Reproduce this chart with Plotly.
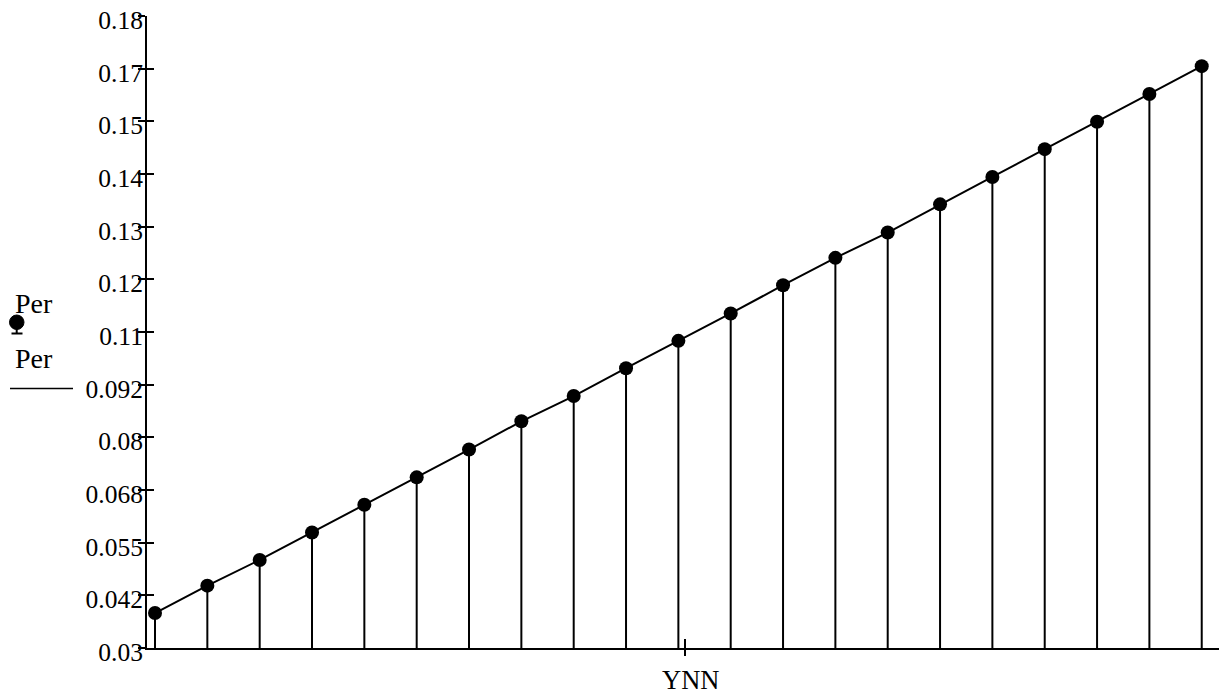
import plotly.graph_objects as go

# ---- data ----
ynn = list(range(1, 22))
per = [0.0383, 0.0448, 0.0509, 0.0574, 0.0640, 0.0705, 0.0771, 0.0838, 0.0898,
       0.0964, 0.1029, 0.1094, 0.1161, 0.1226, 0.1286, 0.1353, 0.1418, 0.1484,
       0.1549, 0.1615, 0.1681]
y_tickvals = [0.03, 0.0425, 0.055, 0.0675, 0.08, 0.0925, 0.105, 0.1175, 0.13,
              0.1425, 0.155, 0.1675, 0.18]
y_ticktext = ["0.03", "0.042", "0.055", "0.068", "0.08", "0.092", "0.11", "0.12",
              "0.13", "0.14", "0.15", "0.17", "0.18"]
y_min, y_max = 0.03, 0.18
x_min, x_max = 0.847, 21.33
x_mid_tick = [11.127]

FONT = "Liberation Serif"
W, H = 1219, 696
ML, MR, MT, MB = 147, 0, 16, 48
PW, PH = W - ML - MR, H - MT - MB

def px(x):
    return (x - ML) / PW

def py(y):
    return (H - MB - y) / PH

# stems built from the data
stem_x, stem_y = [], []
for xv, yv in zip(ynn, per):
    stem_x += [xv, xv, None]
    stem_y += [y_min, yv, None]

fig = go.Figure()
fig.add_trace(go.Scatter(x=stem_x, y=stem_y, mode="lines",
                         line=dict(color="black", width=2), hoverinfo="skip",
                         showlegend=False))
fig.add_trace(go.Scatter(x=ynn, y=per, mode="lines+markers",
                         line=dict(color="black", width=2),
                         marker=dict(color="black", size=14),
                         showlegend=False, name="Per"))
# invisible trace to activate overlay axes (inner tick halves)
fig.add_trace(go.Scatter(x=[ynn[0]], y=[per[0]], xaxis="x2", yaxis="y2",
                         mode="markers", marker=dict(opacity=0),
                         showlegend=False, hoverinfo="skip"))

tick_font = dict(family=FONT, size=25.5, color="black")
title_font = dict(family=FONT, size=28, color="black")
xtitle_font = dict(family=FONT, size=26.5, color="black")
eps = 1e-7
fig.update_layout(
    width=W, height=H,
    margin=dict(l=ML, r=MR, t=MT, b=MB),
    paper_bgcolor="white", plot_bgcolor="white",
    font=tick_font,
    showlegend=False,
    xaxis=dict(range=[x_min, x_max], showgrid=False, zeroline=False,
               showline=True, linecolor="black", linewidth=2,
               tickvals=x_mid_tick, ticks="outside", ticklen=6, tickwidth=2,
               tickcolor="black", showticklabels=False),
    xaxis2=dict(range=[x_min, x_max], overlaying="x", anchor="y",
                showgrid=False, zeroline=False, showline=False,
                tickvals=x_mid_tick, ticks="inside", ticklen=9, tickwidth=2,
                tickcolor="black", showticklabels=False),
    yaxis=dict(range=[y_min, y_max + eps], showgrid=False, zeroline=False,
               showline=True, linecolor="black", linewidth=2,
               tickvals=y_tickvals, ticktext=y_ticktext,
               ticks="outside", ticklen=7, tickwidth=2, tickcolor="black",
               tickfont=tick_font, ticklabelstandoff=-10, ticklabelshift=4,
               ticklabeloverflow="allow"),
    yaxis2=dict(range=[y_min, y_max + eps], overlaying="y", anchor="x",
                showgrid=False, zeroline=False, showline=False,
                tickvals=y_tickvals, ticks="inside", ticklen=7, tickwidth=2,
                tickcolor="black", showticklabels=False),
)

# x-axis title
fig.add_annotation(x=px(690.5), y=py(695.5), xref="paper", yref="paper",
                   text="YNN", showarrow=False, font=xtitle_font, borderpad=0,
                   xanchor="center", yanchor="bottom")
# Mathcad-style y-axis legend labels on the left
fig.add_annotation(x=px(34), y=py(303), xref="paper", yref="paper",
                   text="Per", showarrow=False, font=title_font,
                   xanchor="center", yanchor="middle")
fig.add_annotation(x=px(34), y=py(358), xref="paper", yref="paper",
                   text="Per", showarrow=False, font=title_font,
                   xanchor="center", yanchor="middle")
# marker symbol: dot with stem and base
fig.add_shape(type="circle", xref="paper", yref="paper",
              x0=px(9.5), x1=px(24), y0=py(315), y1=py(329.5),
              fillcolor="black", line=dict(color="black", width=1))
fig.add_shape(type="line", xref="paper", yref="paper",
              x0=px(16.7), x1=px(16.7), y0=py(322), y1=py(333.5),
              line=dict(color="black", width=2))
fig.add_shape(type="line", xref="paper", yref="paper",
              x0=px(11.5), x1=px(22.5), y0=py(333.5), y1=py(333.5),
              line=dict(color="black", width=2))
# line symbol
fig.add_shape(type="line", xref="paper", yref="paper",
              x0=px(10), x1=px(73), y0=py(388.5), y1=py(388.5),
              line=dict(color="black", width=1.5))

fig.write_html("out.html")
